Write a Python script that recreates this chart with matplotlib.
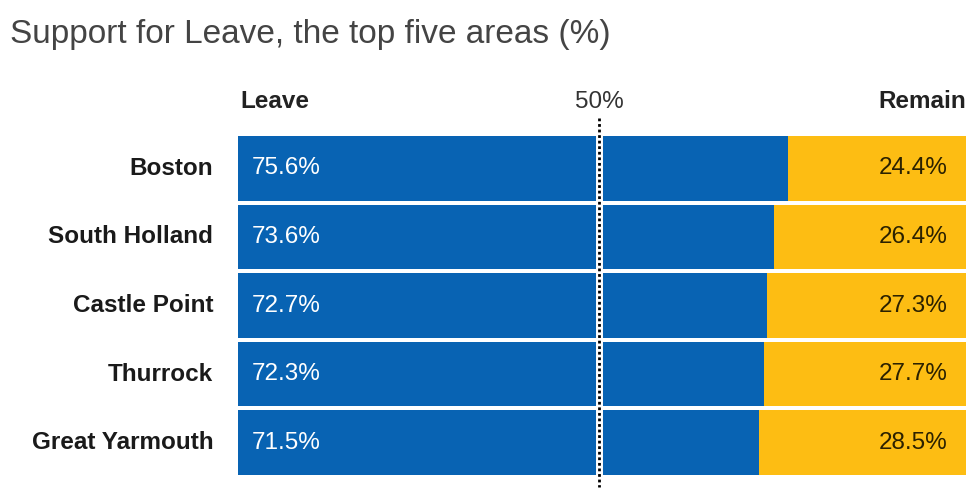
import numpy as np
import matplotlib.pyplot as plt

areas = ["Boston", "South Holland", "Castle Point", "Thurrock", "Great Yarmouth"]
leave = [75.6, 73.6, 72.7, 72.3, 71.5]
remain = [24.4, 26.4, 27.3, 27.7, 28.5]

blue = "#0863b3"
yellow = "#fdbd13"

plt.rcParams['font.family'] = ['Liberation Sans', 'DejaVu Sans']

fig = plt.figure(figsize=(9.68, 4.88), dpi=100)
ax = fig.add_axes([238 / 968, 11 / 488, 728 / 968, 343 / 488])

y = np.arange(len(areas))
ax.barh(y, leave, height=0.94, color=blue, lw=0)
ax.barh(y, remain, left=leave, height=0.94, color=yellow, lw=0)
ax.set_xlim(0, 100)
ax.set_ylim(len(areas) - 0.5, -0.5)
ax.axis('off')

fs = 17.5
for i, name in enumerate(areas):
    ax.text(-3.4, i, name, ha="right", va="center", fontsize=fs,
            fontweight="bold", color="#1a1a1a")
    ax.text(1.9, i, f"{leave[i]}%", ha="left", va="center", fontsize=fs,
            color="white")
    ax.text(97.5, i, f"{remain[i]}%", ha="right", va="center", fontsize=fs,
            color="#2b2100")

# 50% marker
ax.plot([49.6, 49.6], [-0.74, 4.65], color="white", lw=5, clip_on=False,
        solid_capstyle="butt")
ax.plot([49.6, 49.6], [-0.74, 4.65], color="black", lw=2, ls=(0, (1, 1)),
        clip_on=False)

ax.text(0.3, -0.97, "Leave", ha="left", va="center", fontsize=fs,
        fontweight="bold", color="#222222")
ax.text(49.6, -0.97, "50%", ha="center", va="center", fontsize=fs,
        color="#333333")
ax.text(100, -0.97, "Remain", ha="right", va="center", fontsize=fs,
        fontweight="bold", color="#222222")

fig.text(10 / 968, 1 - 35 / 488, "Support for Leave, the top five areas (%)",
         ha="left", va="center", fontsize=24, color="#444444")

fig.savefig("out.png", dpi=100)
